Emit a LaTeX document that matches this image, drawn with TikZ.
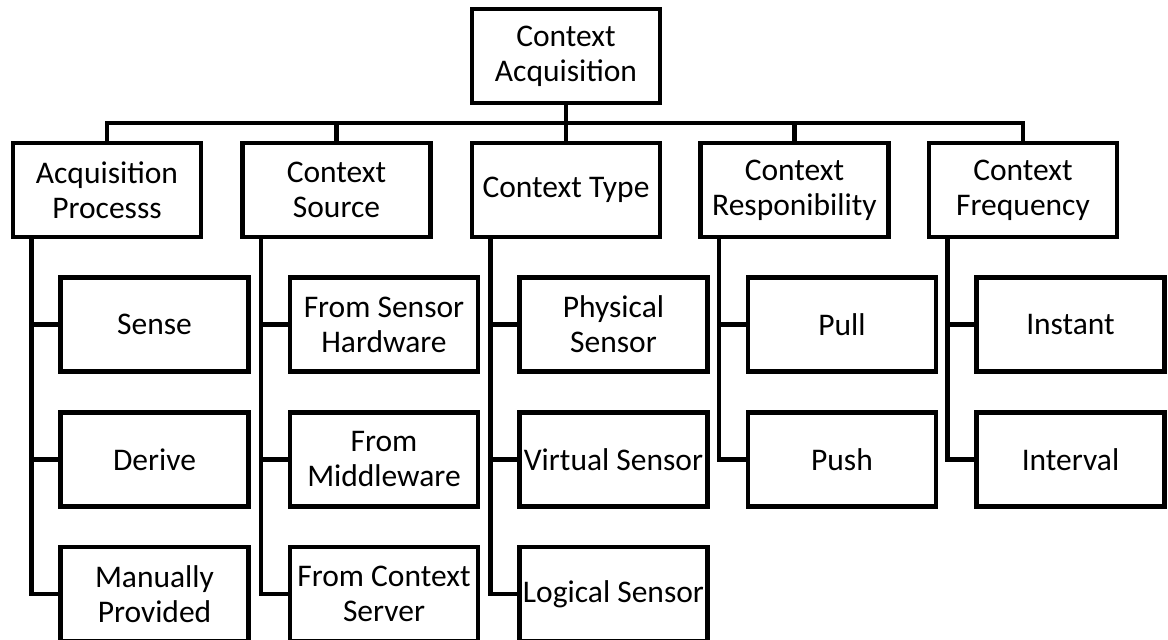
\documentclass[tikz,border=0pt]{standalone}
\usepackage{fontspec}
\setmainfont{Carlito}
\begin{document}
\begin{tikzpicture}[x=1pt,y=-1pt,
  box/.style={draw,line width=4.5pt,minimum width=188pt,minimum height=94pt,
    inner sep=0pt,outer sep=0pt,align=center,font=\fontsize{31.5}{35}\selectfont},
  link/.style={line width=4.5pt,line join=miter}]
\useasboundingbox (0,0) rectangle (1168,640);

% top level
\node[box] (root) at (566,56) {Context\\Acquisition};

% categories
\node[box] (proc) at (107,190) {Acquisition\\Processs};
\node[box] (src)  at (336.5,190) {Context\\Source};
\node[box] (type) at (566,190) {Context Type};
\node[box] (resp) at (794.5,190) {Context\\Responibility};
\node[box] (freq) at (1023,190) {Context\\Frequency};

% leaves
\node[box] (sense)  at (154.5,324.5) {Sense};
\node[box] (derive) at (154.5,459.5) {Derive};
\node[box] (manual) at (154.5,594) {Manually\\Provided};

\node[box] (hw)  at (384,324.5) {From Sensor\\Hardware};
\node[box] (mw)  at (384,459.5) {From\\Middleware};
\node[box] (srv) at (384,594) {From Context\\Server};

\node[box] (phys) at (613.5,324.5) {Physical\\Sensor};
\node[box] (virt) at (613.5,459.5) {Virtual Sensor};
\node[box] (logi) at (613.5,594) {Logical Sensor};

\node[box] (pull) at (842,324.5) {Pull};
\node[box] (push) at (842,459.5) {Push};

\node[box] (inst) at (1070.5,324.5) {Instant};
\node[box] (intv) at (1070.5,459.5) {Interval};

% bus from the root to the categories
\foreach \c in {proc,src,type,resp,freq}
  \draw[link] (root.south) -- ++(0,20) -| (\c.north);

% spines from each category to its leaves
\foreach \p/\leaves in {proc/{sense,derive,manual},src/{hw,mw,srv},
    type/{phys,virt,logi},resp/{pull,push},freq/{inst,intv}}
  \foreach \l in \leaves
    \draw[link] ([xshift=18.5pt]\p.south west) |- (\l.west);
\end{tikzpicture}
\end{document}
